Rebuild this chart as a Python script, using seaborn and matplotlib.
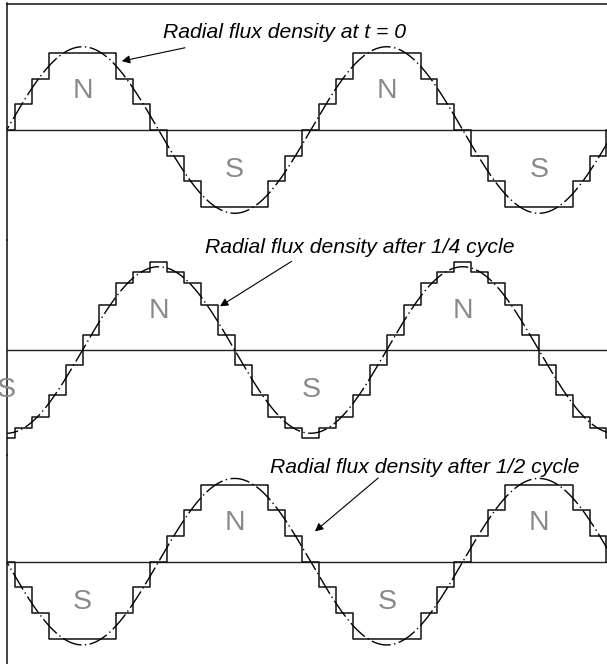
import numpy as np
import pandas as pd
import matplotlib
matplotlib.use('Agg')
import matplotlib.pyplot as plt
import seaborn as sns

# slot index along the air gap
slots = list(range(-1, 37))

# stepped radial flux density per slot (one unit = one slot current step)
flux_t0 = [-1, 0, 1, 2, 3, 3, 3, 3, 2, 1, 0, -1, -2, -3, -3, -3, -3, -2, -1,
           0, 1, 2, 3, 3, 3, 3, 2, 1, 0, -1, -2, -3, -3, -3, -3, -2, -1, 0]
flux_quarter = [-3.03, -3.43, -3.03, -2.6, -1.75, -0.58, 0.58, 1.75, 2.6, 3.03,
                3.43, 3.03, 2.6, 1.75, 0.58, -0.58, -1.75, -2.6, -3.03,
                -3.43, -3.03, -2.6, -1.75, -0.58, 0.58, 1.75, 2.6, 3.03,
                3.43, 3.03, 2.6, 1.75, 0.58, -0.58, -1.75, -2.6, -3.03, -3.43]
flux_half = [1, 0, -1, -2, -3, -3, -3, -3, -2, -1, 0, 1, 2, 3, 3, 3, 3, 2, 1,
             0, -1, -2, -3, -3, -3, -3, -2, -1, 0, 1, 2, 3, 3, 3, 3, 2, 1, 0]

# fundamental wave: amplitude, pole pitch (slots), shift per panel (slots)
sine_amp = 3.24
pole_pitch = 9
sine_shift = [0, 4.5, 9]

captions = ["Radial flux density at t = 0",
            "Radial flux density after 1/4 cycle",
            "Radial flux density after 1/2 cycle"]

# pole labels per panel: (letter, slot position)
poles = [[("N", 4.5), ("S", 13.5), ("N", 22.5), ("S", 31.5)],
         [("S", 0), ("N", 9), ("S", 18), ("N", 27), ("S", 36)],
         [("S", 4.5), ("N", 13.5), ("S", 22.5), ("N", 31.5)]]

sns.set_style('white')
plt.rcParams['font.family'] = ['Liberation Sans', 'DejaVu Sans']

W, H = 607, 664
x0 = 6.5          # left border, px
px_slot = 16.9    # px per slot
px_unit = 25.7    # px per flux step

fig = plt.figure(figsize=(W / 100, H / 100), dpi=100)


def make_panel(top, bottom, base, show_top):
    ax = fig.add_axes([x0 / W, 1 - bottom / H, (W - x0) / W, (bottom - top) / H])
    ax.set_xlim(0, (W - x0) / px_slot)
    ax.set_ylim(-(bottom - base) / px_unit, (base - top) / px_unit)
    ax.set_facecolor('none')
    ax.set_xticks([])
    ax.set_yticks([])
    for side in ['right', 'bottom']:
        ax.spines[side].set_visible(False)
    ax.spines['top'].set_visible(show_top)
    for side in ['left', 'top']:
        ax.spines[side].set_color('#111111')
        ax.spines[side].set_linewidth(1.1)
    ax.axhline(0, color='#222222', lw=1.0)
    return ax


panels = [make_panel(3.5, 240, 130, True),
          make_panel(240, 455, 350, False),
          make_panel(455, 664, 561.7, False)]

xs = np.linspace(-0.5, 36.5, 900)
flux_sets = [flux_t0, flux_quarter, flux_half]

for ax, flux, shift, labels in zip(panels, flux_sets, sine_shift, poles):
    df = pd.DataFrame({'slot': slots, 'flux': flux})
    sns.lineplot(data=df, x='slot', y='flux', ax=ax, drawstyle='steps-mid',
                 color='#111111', lw=1.1, estimator=None)
    wave = pd.DataFrame({'x': xs, 'b': sine_amp * np.sin(np.pi * (xs - shift) / pole_pitch)})
    sns.lineplot(data=wave, x='x', y='b', ax=ax, color='black', lw=1.0,
                 linestyle=(0, (14, 2.5, 1, 2.5)), estimator=None)
    for letter, pos in labels:
        y = 1.5 if letter == "N" else -1.55
        ax.text(pos, y, letter, ha='center', va='center', fontsize=20.5,
                color='#8a8a8a')
    ax.set_xlabel('')
    ax.set_ylabel('')

# captions with arrows: (text left, baseline), arrow tail, arrow head
caption_pos = [(9.26, 3.58), (11.75, 3.77), (15.59, 3.45)]
arrow_tail = [(10.56, 3.2), (16.87, 3.45), (22.0, 3.26)]
arrow_head = [(6.82, 2.68), (12.63, 1.70), (18.25, 1.18)]

for ax, text, pos, tail, head in zip(panels, captions, caption_pos, arrow_tail, arrow_head):
    ax.text(pos[0], pos[1], text, ha='left', va='baseline', fontsize=15.2,
            style='italic', color='black')
    ax.annotate('', xy=head, xytext=tail,
                arrowprops=dict(arrowstyle='-|>', color='black', lw=0.8,
                                mutation_scale=12, shrinkA=0, shrinkB=0))

plt.savefig('out.png', dpi=100)
